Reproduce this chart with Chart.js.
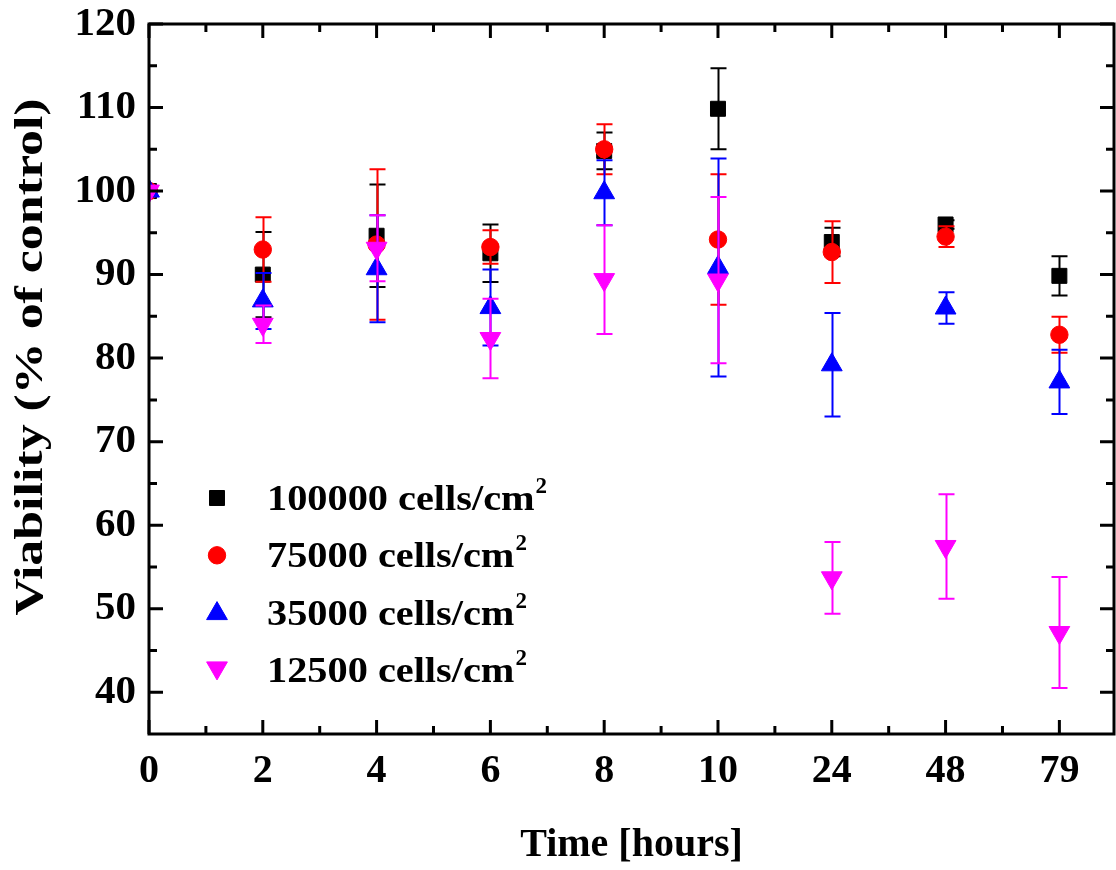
<!DOCTYPE html>
<html>
<head>
<meta charset="utf-8">
<script src="https://cdn.jsdelivr.net/npm/chart.js@4/dist/chart.umd.min.js"></script>
<style>
  html, body { margin: 0; padding: 0; background: #fff; overflow: hidden; }
</style>
</head>
<body>
<canvas id="grafico" width="1116" height="870"></canvas>
<script>
// categorias do eixo x (posicoes igualmente espacadas)
const tempos = ["0", "2", "4", "6", "8", "10", "24", "48", "79"];
const yTicks = [40, 50, 60, 70, 80, 90, 100, 110, 120];

const rotulos = ["100000 cells/cm", "75000 cells/cm", "35000 cells/cm", "12500 cells/cm"];
const tituloY = "Viability (% of control)";

const v100000 = [100, 90.0, 94.65, 92.55, 104.8, 109.85, 93.9, 96.0, 89.85];
const e100000 = [0, 5.1, 6.15, 3.45, 2.2, 4.85, 1.7, 0.5, 2.35];

const v75000 = [100, 93.0, 93.6, 93.3, 105.0, 94.2, 92.7, 94.55, 82.8];
const e75000 = [0, 3.85, 9.0, 2.0, 3.0, 7.8, 3.7, 1.25, 2.15];

const v35000 = [100, 86.85, 90.7, 86.05, 99.8, 90.85, 79.2, 86.0, 77.15];
const e35000 = [0, 3.35, 6.4, 4.55, 3.9, 13.05, 6.2, 1.9, 3.85];

const v12500 = [100, 84.05, 93.15, 82.35, 89.4, 89.35, 53.7, 57.45, 47.15];
const e12500 = [0, 2.25, 3.95, 4.75, 6.5, 9.95, 4.3, 6.25, 6.65];

const fonte = "'Liberation Serif', 'Times New Roman', serif";

function pontos(valores) {
  return valores.map((v, i) => ({ x: i, y: v }));
}

const barrasErro = {
  id: "barrasErro",
  afterDatasetDraw(chart, args) {
    const ds = chart.data.datasets[args.index];
    if (!ds.erros) return;
    const ctx = chart.ctx;
    const xs = chart.scales.x;
    const ys = chart.scales.y;
    ctx.save();
    ctx.strokeStyle = ds.borderColor;
    ctx.lineWidth = 2;
    ds.data.forEach((p, i) => {
      const e = ds.erros[i];
      if (!e) return;
      const x = Math.round(xs.getPixelForValue(p.x)) + 0.5;
      const y1 = ys.getPixelForValue(p.y + e);
      const y2 = ys.getPixelForValue(p.y - e);
      ctx.beginPath();
      ctx.moveTo(x, y1);
      ctx.lineTo(x, y2);
      ctx.moveTo(x - 8, y1);
      ctx.lineTo(x + 8, y1);
      ctx.moveTo(x - 8, y2);
      ctx.lineTo(x + 8, y2);
      ctx.stroke();
    });
    ctx.restore();
  },
};

const moldura = {
  id: "moldura",
  afterDraw(chart) {
    const ctx = chart.ctx;
    const a = chart.chartArea;
    const xs = chart.scales.x;
    const ys = chart.scales.y;
    ctx.save();
    ctx.strokeStyle = "#000";
    ctx.lineWidth = 3;
    ctx.strokeRect(a.left, a.top, a.right - a.left, a.bottom - a.top);
    ctx.beginPath();
    for (let i = 0; i < tempos.length; i++) {
      const xm = xs.getPixelForValue(i);
      ctx.moveTo(xm, a.bottom); ctx.lineTo(xm, a.bottom - 14);
      ctx.moveTo(xm, a.top); ctx.lineTo(xm, a.top + 14);
      const xn = xs.getPixelForValue(i + 0.5);
      if (xn < a.right - 2) {
        ctx.moveTo(xn, a.bottom); ctx.lineTo(xn, a.bottom - 8);
        ctx.moveTo(xn, a.top); ctx.lineTo(xn, a.top + 8);
      }
    }
    for (let v = 40; v <= 120; v += 5) {
      const y = ys.getPixelForValue(v);
      const len = v % 10 === 0 ? 14 : 8;
      ctx.moveTo(a.left, y); ctx.lineTo(a.left + len, y);
      ctx.moveTo(a.right, y); ctx.lineTo(a.right - len, y);
    }
    ctx.stroke();
    ctx.restore();

    // titulo do eixo y (desenhado a mao para esticar como no original)
    ctx.save();
    ctx.fillStyle = "#000";
    ctx.font = "bold 39px " + fonte;
    ctx.textAlign = "center";
    ctx.textBaseline = "middle";
    ctx.translate(32, 357);
    ctx.rotate(-Math.PI / 2);
    ctx.scale(1.33, 1);
    ctx.fillText(tituloY, 0, 0);
    ctx.restore();

    // legenda dentro da area do grafico
    ctx.save();
    chart.data.datasets.forEach((ds, i) => {
      const base = 510 + i * 57.3;
      const cy = ds.pointRotation === 180 ? base - 14 : (ds.pointStyle === "triangle" ? base - 11 : base - 12);
      ctx.fillStyle = ds.backgroundColor;
      ctx.strokeStyle = ds.borderColor;
      ctx.lineWidth = 1;
      Chart.helpers.drawPoint(ctx, {
        pointStyle: ds.pointStyle,
        radius: ds.pointRadius,
        rotation: ds.pointRotation || 0,
        borderWidth: 1,
      }, 217, cy);
      ctx.fillStyle = "#000";
      ctx.textBaseline = "alphabetic";
      ctx.textAlign = "left";
      ctx.font = "bold 36px " + fonte;
      ctx.save();
      ctx.translate(267, base);
      ctx.scale(1.12, 1);
      ctx.fillText(rotulos[i], 0, 0);
      const w = ctx.measureText(rotulos[i]).width * 1.12;
      ctx.restore();
      ctx.font = "bold 23px " + fonte;
      ctx.fillText("2", 267 + w + 1, base - 17);
    });
    ctx.restore();
  },
};

const grafico = document.getElementById("grafico").getContext("2d");

const meuGrafico = new Chart(grafico, {
  type: "scatter",
  data: {
    datasets: [
      {
        label: rotulos[0] + "²",
        data: pontos(v100000),
        erros: e100000,
        pointStyle: "rect",
        pointRadius: 10.6,
        backgroundColor: "#000000",
        borderColor: "#000000",
        order: 4,
      },
      {
        label: rotulos[1] + "²",
        data: pontos(v75000),
        erros: e75000,
        pointStyle: "circle",
        pointRadius: 8.7,
        backgroundColor: "#ff0000",
        borderColor: "#ff0000",
        order: 3,
      },
      {
        label: rotulos[2] + "²",
        data: pontos(v35000),
        erros: e35000,
        pointStyle: "triangle",
        pointRadius: 12,
        backgroundColor: "#0000ff",
        borderColor: "#0000ff",
        order: 2,
      },
      {
        label: rotulos[3] + "²",
        data: pontos(v12500),
        erros: e12500,
        pointStyle: "triangle",
        pointRotation: 180,
        pointRadius: 12,
        backgroundColor: "#ff00ff",
        borderColor: "#ff00ff",
        order: 1,
      },
    ],
  },
  options: {
    responsive: false,
    animation: false,
    events: [],
    layout: { autoPadding: false, padding: { top: 24, right: 2, left: 0, bottom: 0 } },
    plugins: {
      legend: { display: false },
      tooltip: { enabled: false },
    },
    scales: {
      x: {
        type: "linear",
        min: 0,
        max: 8.48,
        grid: { display: false, drawTicks: false },
        border: { display: false },
        afterBuildTicks: (s) => { s.ticks = tempos.map((t, i) => ({ value: i })); },
        afterFit: (s) => {
          s.height = 136;
          s.paddingLeft = 0;
          s.paddingRight = 0;
        },
        ticks: {
          padding: 14,
          color: "#000",
          maxRotation: 0,
          font: { family: fonte, size: 40, weight: "bold" },
          callback: (v) => tempos[v],
        },
        title: {
          display: true,
          text: "Time [hours]",
          color: "#000",
          font: { family: fonte, size: 40, weight: "bold" },
          padding: { top: 0, bottom: 0 },
        },
      },
      y: {
        min: 35,
        max: 120,
        grid: { display: false, drawTicks: false },
        border: { display: false },
        afterBuildTicks: (s) => { s.ticks = yTicks.map((v) => ({ value: v })); },
        afterFit: (s) => {
          s.width = 149;
          s.paddingTop = 0;
          s.paddingBottom = 0;
        },
        ticks: {
          padding: 13,
          color: "#000",
          font: { family: fonte, size: 41, weight: "bold" },
        },
      },
    },
  },
  plugins: [barrasErro, moldura],
});
</script>
</body>
</html>
